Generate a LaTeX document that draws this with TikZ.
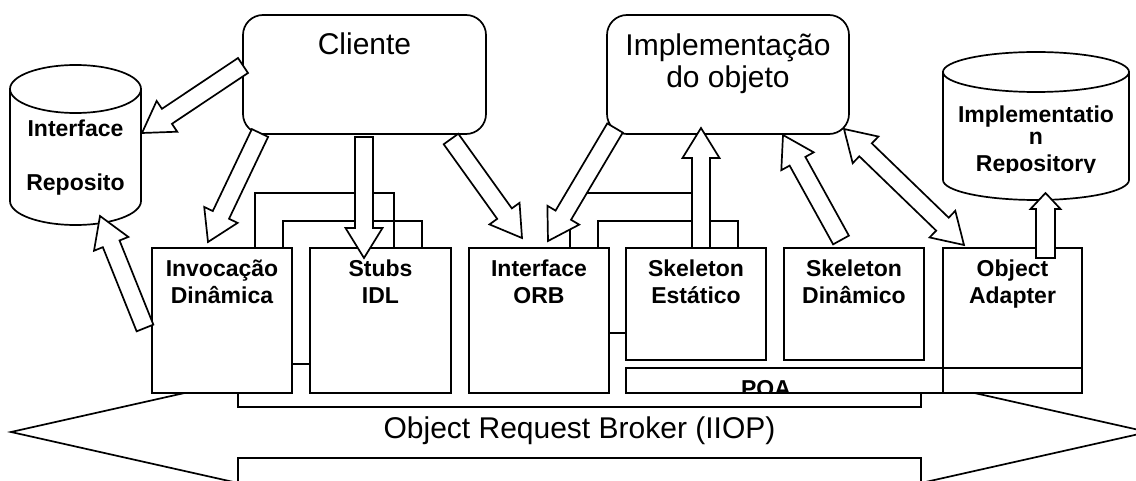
\documentclass[tikz,border=0pt]{standalone}
\usepackage{fontspec}
\setmainfont{Liberation Sans}
\usetikzlibrary{calc}

% block arrow geometry: half shaft width, half head width, head length
\newcommand\arsw{9pt}
\newcommand\arhw{18.5pt}
\newcommand\arhl{30pt}

% hollow block arrow from #1 (tail) to #2 (tip)
\newcommand\blockarrow[2]{%
  \coordinate (ba-h) at ($(#2)!\arhl!(#1)$);
  \filldraw[blockarr]
    ($(#1)!\arsw!90:(#2)$) -- ($(ba-h)!\arsw!-90:(#1)$) -- ($(ba-h)!\arhw!-90:(#1)$)
    -- (#2) -- ($(ba-h)!\arhw!90:(#1)$) -- ($(ba-h)!\arsw!90:(#1)$)
    -- ($(#1)!\arsw!-90:(#2)$) -- cycle;}

% hollow block arrow with heads at both ends
\newcommand\dblockarrow[2]{%
  \coordinate (da-a) at ($(#1)!\arhl!(#2)$);
  \coordinate (da-b) at ($(#2)!\arhl!(#1)$);
  \filldraw[blockarr]
    (#1) -- ($(da-a)!\arhw!90:(#2)$) -- ($(da-a)!\arsw!90:(#2)$)
    -- ($(da-b)!\arsw!-90:(#1)$) -- ($(da-b)!\arhw!-90:(#1)$)
    -- (#2) -- ($(da-b)!\arhw!90:(#1)$) -- ($(da-b)!\arsw!90:(#1)$)
    -- ($(da-a)!\arsw!-90:(#2)$) -- ($(da-a)!\arhw!-90:(#2)$) -- cycle;}

% two bold lines near the top of a component box
\newcommand\boxlabel[3]{%
  \node[boxlbl] (#1-a) at ([yshift=-29pt]#1.north) {#2};
  \node[boxlbl] (#1-b) at ([yshift=-56pt]#1.north) {#3};}

\tikzset{
  ln/.style={line width=1.7pt, line join=miter},
  cbox/.style={ln, draw, fill=white, anchor=north west, inner sep=0pt, outer sep=0pt},
  rbox/.style={cbox, rounded corners=20pt},
  blockarr/.style={ln, draw=black, fill=white},
  boxlbl/.style={anchor=base, inner sep=0pt, font=\bfseries\fontsize{23}{27}\selectfont},
  biglbl/.style={anchor=base, inner sep=0pt, font=\fontsize{30}{36}\selectfont},
}

\begin{document}
\begin{tikzpicture}[x=1pt,y=-1pt]
\useasboundingbox (0,0) rectangle (1136,481);

% ORB bus: wide double-headed arrow
\filldraw[ln, fill=white] (11,432) -- (238,381) -- (238,407) -- (921,407) -- (921,381)
  -- (1148,432) -- (921,483) -- (921,458) -- (238,458) -- (238,483) -- cycle;
\node[biglbl] (orb-t) at (579.5,438) {Object Request Broker (IIOP)};

% component boxes
\node[cbox, minimum width=140pt, minimum height=145pt] (inv) at (152,248) {};
\node[cbox, minimum width=141pt, minimum height=145pt] (stb) at (310,248) {};
\node[cbox, minimum width=140pt, minimum height=145pt] (iorb) at (469,248) {};
\node[cbox, minimum width=140pt, minimum height=112pt] (ske) at (626,248) {};
\node[cbox, minimum width=140pt, minimum height=112pt] (skd) at (784,248) {};
\node[cbox, minimum width=139pt, minimum height=145pt] (oa) at (943,248) {};
\node[cbox, minimum width=456pt, minimum height=25pt] (poa) at (626,368) {};
\draw[ln] (oa.north west) rectangle (oa.south east);

% links between neighbouring boxes
\draw[ln] ([xshift=103pt]inv.north west) -- ++(0,-55) -| ([xshift=84pt]stb.north west);
\draw[ln] ([xshift=131pt]inv.north west) -- ++(0,-27) -| ([xshift=112pt]stb.north west);
\draw[ln] ([xshift=101pt]iorb.north west) -- ++(0,-55) -| ([xshift=75pt]ske.north west);
\draw[ln] ([xshift=129pt]iorb.north west) -- ++(0,-27) -| ([xshift=112pt]ske.north west);
\draw[ln] ([yshift=-116pt]inv.north east) -- ([yshift=-116pt]stb.north west);
\draw[ln] ([yshift=-85pt]iorb.north east) -- ([yshift=-85pt]ske.north west);

\boxlabel{inv}{Invocação}{Dinâmica}
\boxlabel{stb}{Stubs}{IDL}
\boxlabel{iorb}{Interface}{ORB}
\boxlabel{ske}{Skeleton}{Estático}
\boxlabel{skd}{Skeleton}{Dinâmico}
\boxlabel{oa}{Object}{Adapter}

\begin{scope}
  \clip (626,369) rectangle (1082,392);
  \node[boxlbl] (poa-t) at (766,396) {POA};
\end{scope}

% Interface Repository
\filldraw[ln, fill=white] (10,89) -- (10,201)
  .. controls (10,214.26) and (39.32,225) .. (75.5,225)
  .. controls (111.68,225) and (141,214.26) .. (141,201) -- (141,89) -- cycle;
\filldraw[ln, fill=white] (75.5,89) ellipse [x radius=65.5, y radius=24];
\node[boxlbl] (ir-a) at (75.5,137) {Interface};
\node[boxlbl] (ir-b) at (75.5,191) {Reposito};

% Implementation Repository
\filldraw[ln, fill=white] (943,72) -- (943,180)
  .. controls (943,191.05) and (984.64,200) .. (1036,200)
  .. controls (1087.36,200) and (1129,191.05) .. (1129,180) -- (1129,72) -- cycle;
\filldraw[ln, fill=white] (1036,72) ellipse [x radius=93, y radius=20];
\begin{scope}
  \clip (943,93) rectangle (1129,173);
  \node[boxlbl] (mr-a) at (1036,123) {Implementatio};
  \node[boxlbl] (mr-b) at (1036,145) {n};
  \node[boxlbl] (mr-c) at (1036,172) {Repository};
\end{scope}

% client and object implementation
\node[rbox, minimum width=243pt, minimum height=119pt] (cli) at (243,15) {};
\node[biglbl] (cli-t) at ([yshift=-40pt]cli.north) {Cliente};
\node[rbox, minimum width=242pt, minimum height=119pt] (imp) at (607,15) {};
\node[biglbl] (imp-a) at ([yshift=-41pt]imp.north) {Implementação};
\node[biglbl] (imp-b) at ([yshift=-73pt]imp.north) {do objeto};

% arrow end points
\coordinate (c2ir-s) at (243,65.5);   \coordinate (c2ir-e) at (142,133);
\coordinate (c2inv-s) at (260,133);   \coordinate (c2inv-e) at (208,242);
\coordinate (c2stb-s) at (364,137);   \coordinate (c2stb-e) at (364,258);
\coordinate (c2orb-s) at (451,139);   \coordinate (c2orb-e) at (522,238);
\coordinate (i2orb-s) at (615,128);   \coordinate (i2orb-e) at (548,241);
\coordinate (ske2i-s) at (701,248);   \coordinate (ske2i-e) at (701,128);
\coordinate (skd2i-s) at (841,240);   \coordinate (skd2i-e) at (783,135);
\coordinate (oai-a) at (844,129);     \coordinate (oai-b) at (964,245);
\coordinate (oa2mr-s) at (1045.5,258); \coordinate (oa2mr-e) at (1045.5,193);
\coordinate (inv2ir-s) at (145,328);  \coordinate (inv2ir-e) at (100,216);

% block arrows
\blockarrow{c2ir-s}{c2ir-e}
\blockarrow{c2inv-s}{c2inv-e}
\blockarrow{c2stb-s}{c2stb-e}
\blockarrow{c2orb-s}{c2orb-e}
\blockarrow{i2orb-s}{i2orb-e}
\blockarrow{ske2i-s}{ske2i-e}
\blockarrow{skd2i-s}{skd2i-e}
\dblockarrow{oai-a}{oai-b}
\blockarrow{inv2ir-s}{inv2ir-e}
\begingroup
  \renewcommand\arsw{9.5pt}\renewcommand\arhw{15pt}\renewcommand\arhl{16pt}
  \blockarrow{oa2mr-s}{oa2mr-e}
\endgroup
\end{tikzpicture}
\end{document}
